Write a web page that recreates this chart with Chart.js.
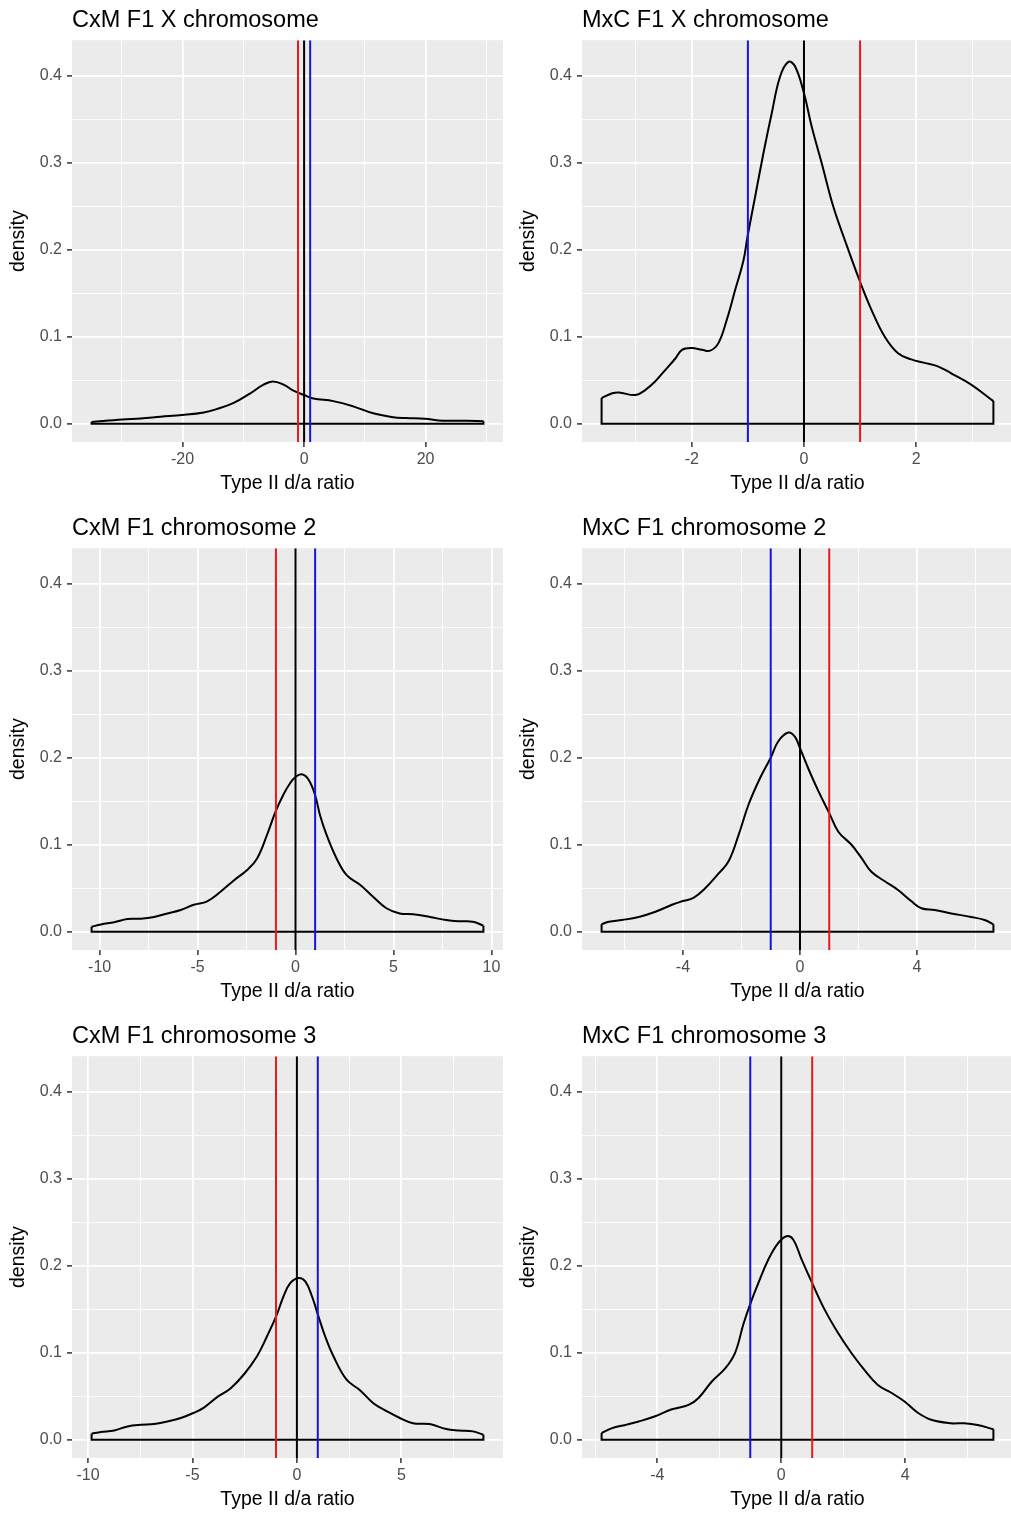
<!DOCTYPE html>
<html>
<head>
<meta charset="utf-8">
<script src="https://cdn.jsdelivr.net/npm/chart.js@4.4.1/dist/chart.umd.min.js"></script>
<style>
  html, body { margin: 0; padding: 0; background: #ffffff; overflow: hidden; }
  #grid { position: relative; width: 1011px; height: 1514px; overflow: hidden; }
  #grid canvas { position: absolute; }
</style>
</head>
<body>
<div id="grid"></div>
<script>
// ---- Panel titles -------------------------------------------------------
const panelTitles = [
  'CxM F1 X chromosome', 'MxC F1 X chromosome',
  'CxM F1 chromosome 2', 'MxC F1 chromosome 2',
  'CxM F1 chromosome 3', 'MxC F1 chromosome 3'
];

// ---- Kernel density estimates of the Type II d/a ratio ------------------
const cxmX_x = [-34.97, -29.89, -26.89, -23.61, -20.05, -16.5, -14.32, -11.58, -8.85, -6.67, -5.14, -3.39, -1.75, 0, 1.53, 4.81, 8.09, 11.37, 14.64, 16.83, 19.84, 22.84, 26.67, 29.51];
const cxmX_d = [0.002, 0.005, 0.006, 0.008, 0.010, 0.013, 0.017, 0.024, 0.035, 0.045, 0.0485, 0.045, 0.038, 0.033, 0.029, 0.026, 0.020, 0.012, 0.0075, 0.0065, 0.0057, 0.0035, 0.0035, 0.003];

const mxcX_x = [-3.608, -3.418, -3.300, -3.004, -2.826, -2.648, -2.470, -2.293, -2.174, -1.996, -1.819, -1.671, -1.523, -1.374, -1.226, -1.078, -1.007, -0.871, -0.723, -0.575, -0.427, -0.278, -0.160, 0, 0.136, 0.314, 0.521, 0.729, 0.989, 1.203, 1.440, 1.677, 1.913, 2.150, 2.387, 2.624, 2.980, 3.377];
const mxcX_d = [0.0295, 0.035, 0.036, 0.033, 0.039, 0.049, 0.062, 0.075, 0.085, 0.087, 0.085, 0.084, 0.093, 0.12, 0.154, 0.188, 0.215, 0.261, 0.311, 0.357, 0.399, 0.416, 0.411, 0.38, 0.342, 0.30, 0.25, 0.211, 0.165, 0.131, 0.100, 0.081, 0.074, 0.070, 0.066, 0.058, 0.045, 0.026];

const cxm2_x = [-10.41, -9.93, -9.25, -8.58, -7.90, -7.22, -6.54, -5.86, -5.19, -4.51, -3.83, -3.15, -2.47, -1.97, -1.46, -1.02, -0.61, -0.27, 0, 0.32, 0.66, 1.0, 1.25, 1.59, 2.10, 2.61, 3.29, 3.97, 4.64, 5.32, 6.0, 6.85, 7.69, 8.37, 9.05, 9.59];
const cxm2_d = [0.0057, 0.0084, 0.011, 0.0146, 0.015, 0.017, 0.021, 0.025, 0.031, 0.035, 0.046, 0.059, 0.071, 0.084, 0.111, 0.138, 0.158, 0.171, 0.178, 0.181, 0.175, 0.157, 0.134, 0.111, 0.084, 0.065, 0.054, 0.040, 0.027, 0.021, 0.020, 0.017, 0.0134, 0.012, 0.0115, 0.007];

const mxc2_x = [-6.78, -6.53, -6.08, -5.51, -4.94, -4.375, -4.03, -3.64, -3.24, -2.78, -2.44, -2.10, -1.76, -1.36, -1.0, -0.74, -0.40, -0.17, 0, 0.28, 0.625, 1.02, 1.31, 1.76, 2.10, 2.44, 2.90, 3.35, 3.81, 4.15, 4.60, 5.17, 5.85, 6.31, 6.61];
const mxc2_d = [0.0085, 0.0115, 0.0135, 0.017, 0.023, 0.031, 0.035, 0.039, 0.05, 0.067, 0.081, 0.111, 0.146, 0.177, 0.20, 0.219, 0.229, 0.224, 0.211, 0.188, 0.162, 0.135, 0.115, 0.10, 0.085, 0.069, 0.058, 0.048, 0.035, 0.027, 0.025, 0.021, 0.017, 0.0135, 0.0085];

const cxm3_x = [-9.83, -9.38, -8.74, -8.11, -7.47, -6.84, -6.20, -5.56, -4.93, -4.45, -3.82, -3.18, -2.54, -1.91, -1.43, -0.99, -0.64, -0.32, 0.08, 0.40, 0.72, 1.03, 1.35, 1.75, 2.38, 3.02, 3.66, 4.29, 4.93, 5.56, 6.36, 7.15, 7.79, 8.43, 8.93];
const cxm3_d = [0.007, 0.0088, 0.0107, 0.0153, 0.0172, 0.018, 0.021, 0.025, 0.031, 0.037, 0.049, 0.059, 0.075, 0.096, 0.119, 0.142, 0.165, 0.18, 0.186, 0.182, 0.165, 0.142, 0.119, 0.096, 0.069, 0.057, 0.042, 0.033, 0.025, 0.019, 0.018, 0.0123, 0.0107, 0.0096, 0.0057];

const mxc3_x = [-5.80, -5.46, -5.03, -4.60, -4.07, -3.53, -2.99, -2.67, -2.24, -1.81, -1.49, -1.22, -0.99, -0.74, -0.42, -0.10, 0.17, 0.39, 0.65, 1.0, 1.41, 1.83, 2.26, 2.69, 3.12, 3.55, 3.98, 4.41, 4.84, 5.48, 5.91, 6.34, 6.85];
const mxc3_d = [0.0077, 0.0134, 0.017, 0.021, 0.027, 0.035, 0.040, 0.048, 0.067, 0.082, 0.1, 0.133, 0.157, 0.18, 0.207, 0.226, 0.234, 0.230, 0.208, 0.18, 0.149, 0.123, 0.10, 0.080, 0.063, 0.054, 0.044, 0.031, 0.023, 0.019, 0.019, 0.017, 0.012];

// ---- Axis breaks --------------------------------------------------------
const cxmX_breaks = [-20, 0, 20];          const cxmX_minor = [-30, -10, 10, 30];
const mxcX_breaks = [-2, 0, 2];            const mxcX_minor = [-3, -1, 1, 3];
const cxm2_breaks = [-10, -5, 0, 5, 10];   const cxm2_minor = [-7.5, -2.5, 2.5, 7.5];
const mxc2_breaks = [-4, 0, 4];            const mxc2_minor = [-6, -2, 2, 6];
const cxm3_breaks = [-10, -5, 0, 5];       const cxm3_minor = [-7.5, -2.5, 2.5, 7.5];
const mxc3_breaks = [-4, 0, 4];            const mxc3_minor = [-6, -2, 2, 6];

const densityBreaks = [0, 0.1, 0.2, 0.3, 0.4];
const densityMinor  = [0.05, 0.15, 0.25, 0.35];
const densityLimits = [-0.021, 0.441];

// ---- Reference lines: lower threshold, zero, upper threshold -----------
const refLines = [-1, 0, 1];

// --------------------------------------------------------------------------
const FONT = "'Liberation Sans', Arial, Helvetica, sans-serif";
const PANEL_BG = '#EBEBEB';
const RED = '#E8191B';
const BLUE = '#1515D8';

const panels = [
  { x: cxmX_x, d: cxmX_d, breaks: cxmX_breaks, minor: cxmX_minor, cross: 'CxM' },
  { x: mxcX_x, d: mxcX_d, breaks: mxcX_breaks, minor: mxcX_minor, cross: 'MxC' },
  { x: cxm2_x, d: cxm2_d, breaks: cxm2_breaks, minor: cxm2_minor, cross: 'CxM' },
  { x: mxc2_x, d: mxc2_d, breaks: mxc2_breaks, minor: mxc2_minor, cross: 'MxC' },
  { x: cxm3_x, d: cxm3_d, breaks: cxm3_breaks, minor: cxm3_minor, cross: 'CxM' },
  { x: mxc3_x, d: mxc3_d, breaks: mxc3_breaks, minor: mxc3_minor, cross: 'MxC' }
];

const isIn = (list, v) => list.some(b => Math.abs(b - v) < 1e-9);

// grey panel behind the plotting region
const panelBackground = {
  id: 'panelBackground',
  beforeDraw(chart) {
    const { ctx, chartArea: a } = chart;
    ctx.save();
    ctx.fillStyle = PANEL_BG;
    ctx.fillRect(a.left, a.top, a.right - a.left, a.bottom - a.top);
    ctx.restore();
  }
};

function gridOptions(breaks) {
  return {
    color: '#FFFFFF',
    lineWidth: c => (c.tick && isIn(breaks, c.tick.value)) ? 1.8 : 0.9,
    drawTicks: true,
    tickLength: 5,
    tickWidth: 1.5,
    tickColor: c => (c.tick && isIn(breaks, c.tick.value)) ? '#333333' : 'rgba(0,0,0,0)'
  };
}

function buildPanel(p, i) {
  const col = i % 2, row = Math.floor(i / 2);
  const canvas = document.createElement('canvas');
  canvas.width = 505; canvas.height = 508;
  canvas.style.left = (col === 0 ? 0 : 510) + 'px';
  canvas.style.top = (row * 508) + 'px';
  document.getElementById('grid').appendChild(canvas);

  const n = p.x.length;
  const lo = p.x[0], hi = p.x[n - 1];
  const pad = (hi - lo) * 0.05;
  const curve = p.x.map((v, k) => ({ x: v, y: p.d[k] }));
  const outline = [
    { x: lo, y: p.d[0] }, { x: lo, y: 0 }, { x: hi, y: 0 }, { x: hi, y: p.d[n - 1] }
  ];
  const refColours = p.cross === 'CxM' ? [RED, '#000000', BLUE] : [BLUE, '#000000', RED];
  const refSets = refLines.map((v, k) => ({
    data: [{ x: v, y: densityLimits[0] }, { x: v, y: densityLimits[1] }],
    showLine: true, borderColor: refColours[k], borderWidth: 2,
    pointRadius: 0, order: 0, clip: 0
  }));

  const xTicks = p.breaks.concat(p.minor).sort((a, b) => a - b);
  const yTicks = densityBreaks.concat(densityMinor).sort((a, b) => a - b);

  new Chart(canvas, {
    type: 'scatter',
    data: {
      datasets: refSets.concat([
        { data: curve, showLine: true, borderColor: '#000000', borderWidth: 2,
          pointRadius: 0, tension: 0.4, order: 1, borderJoinStyle: 'round' },
        { data: outline, showLine: true, borderColor: '#000000', borderWidth: 2,
          pointRadius: 0, tension: 0, order: 1, borderJoinStyle: 'miter' }
      ])
    },
    options: {
      responsive: false,
      animation: false,
      events: [],
      layout: { padding: { left: 0, right: 2, top: 0, bottom: 0 } },
      plugins: {
        legend: { display: false },
        tooltip: { enabled: false },
        title: {
          display: true, text: panelTitles[i], align: 'start', fullSize: false,
          color: '#000000', font: { family: FONT, size: 23.5, weight: 'normal' },
          padding: { top: 6.2, bottom: 5.8 }
        }
      },
      scales: {
        x: {
          type: 'linear', min: lo - pad, max: hi + pad,
          afterBuildTicks: s => { s.ticks = xTicks.map(v => ({ value: v })); },
          afterFit: s => { s.height = 66; },
          grid: gridOptions(p.breaks),
          border: { display: false },
          ticks: {
            autoSkip: false, maxRotation: 0, padding: 2.5, color: '#4D4D4D',
            font: { family: FONT, size: 16 },
            callback: v => isIn(p.breaks, v) ? String(v) : ''
          },
          title: {
            display: true, text: 'Type II d/a ratio', color: '#000000',
            font: { family: FONT, size: 19.5 }, padding: { top: 0, bottom: 13 }
          }
        },
        y: {
          type: 'linear', min: densityLimits[0], max: densityLimits[1],
          afterBuildTicks: s => { s.ticks = yTicks.map(v => ({ value: v })); },
          afterFit: s => { s.width = 72; },
          grid: gridOptions(densityBreaks),
          border: { display: false },
          ticks: {
            autoSkip: false, padding: 5, color: '#4D4D4D',
            font: { family: FONT, size: 16 },
            callback: v => isIn(densityBreaks, v) ? v.toFixed(1) : ''
          },
          title: {
            display: true, text: 'density', color: '#000000',
            font: { family: FONT, size: 19.5 }, padding: { top: 7, bottom: 0 }
          }
        }
      }
    },
    plugins: [panelBackground]
  });
}

panels.forEach(buildPanel);
</script>
</body>
</html>
